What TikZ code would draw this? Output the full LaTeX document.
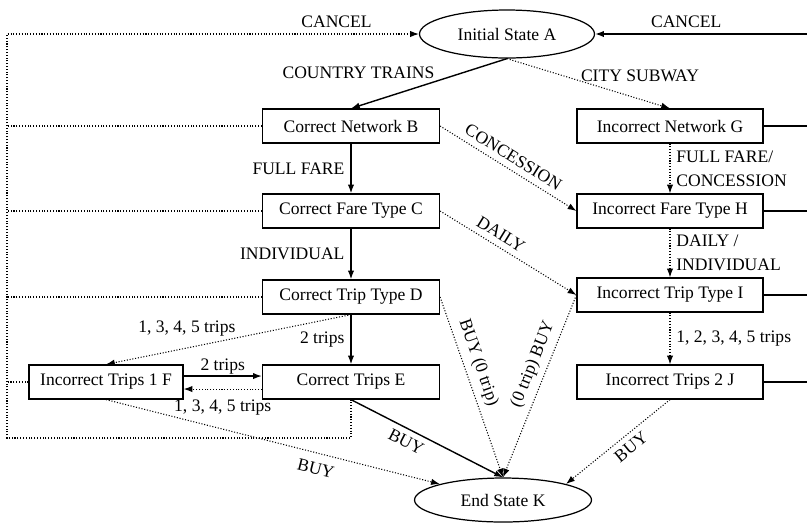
\documentclass[tikz,border=0pt]{standalone}
\usepackage{fontspec}
\setmainfont{Liberation Serif}
\usetikzlibrary{arrows.meta}
\usetikzlibrary{shapes.geometric}
\tikzset{>={Latex[length=5pt,width=3.6pt]},
         state/.style = {draw, ellipse, line width=0.7pt, inner sep=0pt},
         box/.style = {draw, rectangle, line width=0.7pt, minimum height=0.68cm, inner sep=0pt},
         go/.style = {->, line width=0.8pt},
         miss/.style = {->, densely dotted, line width=0.6pt},
         back/.style = {densely dotted, line width=0.6pt}}

\begin{document}
\begin{tikzpicture}[x=0.02cm, y=-0.02cm, font=\fontsize{10}{13.8}\selectfont]
    \useasboundingbox (0,0) rectangle (807,522);

    \node [state, minimum width=3.5cm, minimum height=0.96cm] (A) at (507,34) {Initial State A};
    \node [state, minimum width=3.54cm, minimum height=0.88cm] (K) at (503,500) {End State K};

    \node [box, minimum width=3.54cm] (B) at (351,126) {Correct Network B};
    \node [box, minimum width=3.54cm] (C) at (351,211) {Correct Fare Type C};
    \node [box, minimum width=3.54cm] (D) at (351,297) {Correct Trip Type D};
    \node [box, minimum width=3.54cm] (E) at (351,382) {Correct Trips E};
    \node [box, minimum width=3.08cm] (F) at (106,382) {Incorrect Trips 1 F};
    \node [box, minimum width=3.72cm] (G) at (670,126) {Incorrect Network G};
    \node [box, minimum width=3.72cm] (H) at (670,211) {Incorrect Fare Type H};
    \node [box, minimum width=3.72cm] (I) at (670,295) {Incorrect Trip Type I};
    \node [box, minimum width=3.72cm] (J) at (670,382) {Incorrect Trips 2 J};

    \coordinate (lo) at (7,438);
    \coordinate (hi) at (7,34);
    \coordinate (rt) at (807,34);

    % cancel
    \draw [miss] (E.south) |- (lo) -- (hi) -- node [above, pos=0.8] {CANCEL} (A.west);
    \foreach \s in {B,C,D,F} \draw [back] (\s.west) -- (\s.west -| lo);
    \draw [go] (rt) -- node [above, pos=0.57] {CANCEL} (A.east);
    \foreach \s in {G,H,I,J} \draw [line width=0.8pt] (\s.east) -- (\s.east -| rt);

    % choices
    \draw [go] (A.south) -- node [pos=0.45, anchor=south east, inner sep=1pt] {COUNTRY TRAINS} (B.north);
    \draw [miss] (A.south) -- node [pos=0.44, anchor=south west, inner sep=1pt, yshift=-2pt] {CITY SUBWAY} (G.north);
    \draw [go] (B) -- node [left] {FULL FARE} (C);
    \draw [miss] (B.east) -- node [sloped, above, pos=0.49] {CONCESSION} (H.west);
    \draw [miss] (G) -- node [right, align=left] {FULL FARE/\\CONCESSION} (H);
    \draw [go] (C) -- node [left] {INDIVIDUAL} (D);
    \draw [miss] (C.east) -- node [sloped, above, pos=0.4] {DAILY} (I.west);
    \draw [miss] (H) -- node [right, align=left] {DAILY /\\INDIVIDUAL} (I);
    \draw [go] (D) -- node [left] {2 trips} (E);
    \draw [miss] (D.south) -- node [pos=0.67, above=3pt] {1, 3, 4, 5 trips} (F.north);
    \draw [miss] (I) -- node [right] {1, 2, 3, 4, 5 trips} (J);
    \draw [go] ([yshift=3.4pt]F.east) -- node [above=-2.5pt] {2 trips} ([yshift=3.4pt]E.west);
    \draw [miss] ([yshift=-4pt]E.west) -- node [below=2.4pt] {1, 3, 4, 5 trips} ([yshift=-4pt]F.east);

    % buy
    \draw [go] (E.south) -- node [sloped, below, pos=0.4] {BUY} (K.north);
    \draw [miss] (D.east) -- node [sloped, above, pos=0.39] {BUY (0 trip)} (K.north);
    \draw [miss] (I.west) -- node [sloped, above, pos=0.41] {(0 trip) BUY} (K.north);
    \draw [miss] (F.south) -- node [sloped, below=2pt, pos=0.64] {BUY} (K);
    \draw [miss] (J.south) -- node [sloped, below, pos=0.45] {BUY} (K.north east);
\end{tikzpicture}
\end{document}
